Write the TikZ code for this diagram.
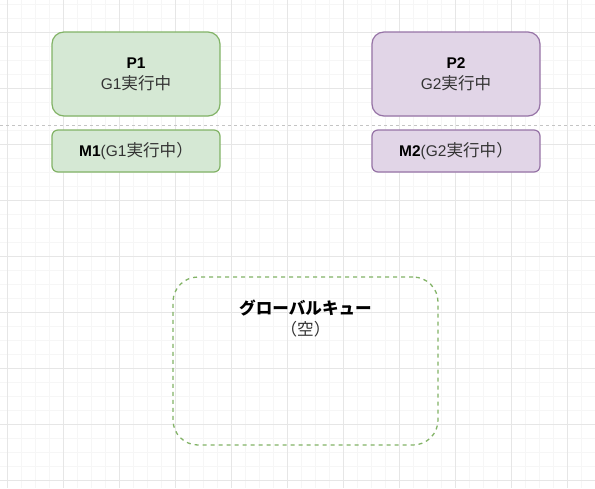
\documentclass[tikz,border=0pt]{standalone}
\usepackage{fontspec}
\setmainfont{Liberation Sans}
\newfontfamily\jp{Noto Sans CJK JP}[Scale=1.07]
\usetikzlibrary{positioning}
\definecolor{gridmajor}{HTML}{E6E6E6}
\definecolor{gridminor}{HTML}{F6F6F6}
\definecolor{sepline}{HTML}{C4C4C4}
\definecolor{gfill}{HTML}{D5E8D4}
\definecolor{gline}{HTML}{82B366}
\definecolor{vfill}{HTML}{E1D5E7}
\definecolor{vline}{HTML}{9673A6}
\definecolor{txtgrey}{HTML}{333333}
\tikzset{
  pbox/.style={draw, line width=1.2pt, rounded corners=12pt, minimum width=168pt, minimum height=84pt, align=center, text=txtgrey, font=\fontsize{15.5}{21}\selectfont},
  mbox/.style={draw, line width=1.2pt, rounded corners=6pt, minimum width=168pt, minimum height=42pt, align=center, text=txtgrey, font=\fontsize{15.5}{21}\selectfont},
  qbox/.style={draw=gline, line width=1.3pt, dash pattern=on 4pt off 4pt, rounded corners=25pt, minimum width=265pt, minimum height=168pt},
  qtext/.style={align=center, text=txtgrey, inner sep=0pt, font=\fontsize{15.5}{21}\selectfont}
}
\begin{document}
\begin{tikzpicture}[x=1pt, y=-1pt]
			%%%%% START %%%%%
			
			\useasboundingbox[fill=white] (0,0) rectangle (595,488);
			
			% grid
			\foreach \x in {7,21,...,595} \draw[gridminor, line width=0.7pt] (\x,0) -- (\x,488);
			\foreach \y in {4,18,...,488} \draw[gridminor, line width=0.7pt] (0,\y) -- (595,\y);
			\foreach \x in {7,63,...,595} \draw[gridmajor, line width=0.7pt] (\x,0) -- (\x,488);
			\foreach \y in {32,88,...,488} \draw[gridmajor, line width=0.7pt] (0,\y) -- (595,\y);
			
			\draw[sepline, line width=0.8pt, dash pattern=on 3pt off 3pt] (0,125) -- (595,125);
			
			% P and M
			\node[pbox, fill=gfill, draw=gline] (P1) at (136,74) {\textcolor{black}{\bfseries P1}\\G1{\jp 実行中}};
			\node[mbox, fill=gfill, draw=gline] (M1) at (136,151) {\textcolor{black}{\bfseries M1}(G1{\jp 実行中）}};
			
			\node[pbox, fill=vfill, draw=vline] (P2) at (456,74) {\textcolor{black}{\bfseries P2}\\G2{\jp 実行中}};
			\node[mbox, fill=vfill, draw=vline] (M2) at (456,151) {\textcolor{black}{\bfseries M2}(G2{\jp 実行中）}};
			
			% global queue
			\node[qbox] (GQ) at (305.5,361) {};
			\node[qtext] (GQlabel) at (305.5,318.5) {\textcolor{black}{\jp\bfseries グローバルキュー}\\{\jp （空）}};
			
			%%%%% END %%%%%
\end{tikzpicture}
\end{document}
